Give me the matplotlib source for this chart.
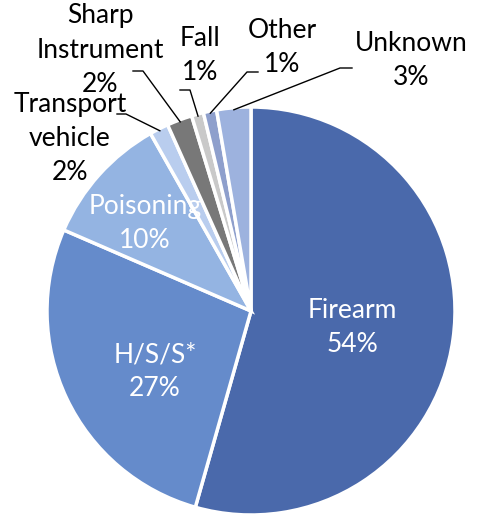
import numpy as np
import matplotlib.pyplot as plt

causes = ['Firearm', 'H/S/S*', 'Poisoning', 'Transport\nvehicle', 'Sharp\nInstrument',
          'Fall', 'Other', 'Unknown']
shares = [54.4, 27.1, 10.3, 1.5, 2.0, 0.95, 1.05, 2.7]
colors = ['#4a69ab', '#658bcb', '#94b4e2', '#b9cdee', '#787878',
          '#c9c9c9', '#8e9fcc', '#9db2de']

W, H = 483, 516
cx, cy, R = 251, 311, 204   # pie centre and radius in pixels


def px(x, y):
    # pixel (from top-left) -> data coords (pie radius = 1)
    return (x - cx) / R, (cy - y) / R


fig = plt.figure(figsize=(W / 100, H / 100), dpi=100)
ax = fig.add_axes([0, 0, 1, 1])

wedges, _ = ax.pie(shares, colors=colors, startangle=90, counterclock=False,
                   radius=1, wedgeprops=dict(edgecolor='white', linewidth=2.5))

# pie() resets the limits, so set them afterwards
ax.set_xlim(-cx / R, (W - cx) / R)
ax.set_ylim(-(H - cy) / R, cy / R)
ax.set_aspect('equal')
ax.axis('off')

plt.rcParams['font.family'] = ['Lato', 'DejaVu Sans']
fs = 19
ls = 1.45

# inside labels (white)
inside = {0: (352, 327), 1: (155, 372), 2: (145, 224)}
for i, (x, y) in inside.items():
    ax.text(*px(x, y), f'{causes[i]}\n{shares[i]:.0f}%', color='white',
            ha='center', va='center', fontsize=fs, linespacing=ls)

# outside labels with leader lines: text centre, line start, elbow end
outside = {
    3: ((70, 139), (117, 114), (126, 114)),
    4: ((100, 50), (133, 71), (143, 71)),
    5: ((200, 56), (180, 90), (190, 90)),
    6: ((282, 48), (258, 72), (247, 72)),
    7: ((411, 61), (352, 68), (340, 68)),
}
for i, (tpos, p0, p1) in outside.items():
    ax.text(*px(*tpos), f'{causes[i]}\n{shares[i]:.0f}%', color='black',
            ha='center', va='center', fontsize=fs, linespacing=ls)
    w = wedges[i]
    ang = np.deg2rad((w.theta1 + w.theta2) / 2)
    tip = (0.99 * np.cos(ang), 0.99 * np.sin(ang))
    a, b = px(*p0), px(*p1)
    ax.plot([a[0], b[0], tip[0]], [a[1], b[1], tip[1]], color='black', lw=1)

fig.savefig('out.png', dpi=100)
